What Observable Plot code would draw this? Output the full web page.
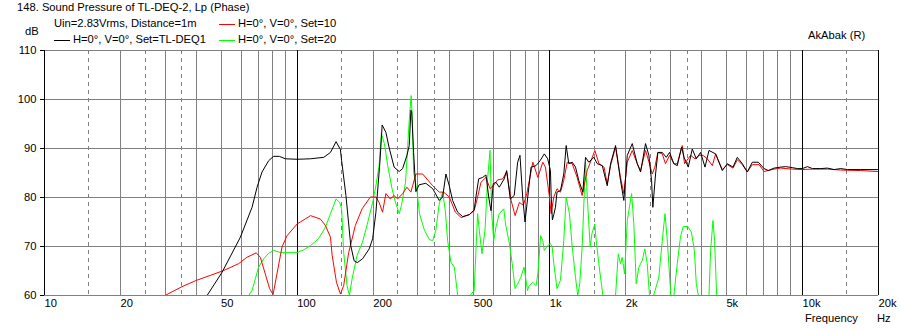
<!DOCTYPE html>
<html>
<head>
<meta charset="utf-8">
<script src="https://cdn.jsdelivr.net/npm/d3@7"></script>
<script src="https://cdn.jsdelivr.net/npm/@observablehq/plot@0.6"></script>
<style>
  html, body { margin: 0; padding: 0; background: #fff; }
  #wrap { position: relative; width: 900px; height: 331px; font-family: "Liberation Sans", Arial, sans-serif; font-size: 11.2px; color: #000; }
  .t { position: absolute; white-space: nowrap; line-height: 1; }
  .sw { position: absolute; height: 1px; width: 16px; }
</style>
</head>
<body>
<div id="wrap">
  <div id="chart"></div>
  <div class="t" style="left:17px; top:2px;">148. Sound Pressure of TL-DEQ-2, Lp (Phase)</div>
  <div class="t" style="left:54px; top:18px;">Uin=2.83Vrms, Distance=1m</div>
  <div class="t" style="left:25px; top:26px;">dB</div>
  <div class="sw" style="left:54px; top:40px; background:#000;"></div>
  <div class="t" style="left:73px; top:34px;">H=0°, V=0°, Set=TL-DEQ1</div>
  <div class="sw" style="left:219px; top:24px; background:#ff0000;"></div>
  <div class="t" style="left:238px; top:18px;">H=0°, V=0°, Set=10</div>
  <div class="sw" style="left:219px; top:40px; background:#00ff00;"></div>
  <div class="t" style="left:238px; top:34px;">H=0°, V=0°, Set=20</div>
  <div class="t" style="left:808px; top:30px;">AkAbak (R)</div>
  <div class="t" style="left:805px; top:313px;">Frequency</div>
  <div class="t" style="left:877px; top:313px;">Hz</div>
</div>
<script>
// ---- tick values and labels ----
const xTicks = [10, 20, 50, 100, 200, 500, 1000, 2000, 5000, 10000, 20000];
const xTickLabels = ["10", "20", "50", "100", "200", "500", "1k", "2k", "5k", "10k", "20k"];
const yTicks = [60, 70, 80, 90, 100, 110];
const majorGrid = [10, 100, 1000, 10000, 20000];
const minorGrid = [20, 30, 40, 50, 60, 70, 80, 90, 200, 300, 400, 500, 600, 700, 800, 900,
                   2000, 3000, 4000, 5000, 6000, 7000, 8000, 9000];
const dashedGrid = [15, 25, 35, 150, 250, 350, 1500, 2500, 3500, 15000];

// ---- series: Set=TL-DEQ1 (black) ----
const blackF = [10, 44, 50.4, 59.6, 66.3, 69.4, 72.6, 77.1, 80.7, 85, 89.8, 100, 113, 127.5, 135.5, 142.6, 148.3, 150, 156, 163, 168, 173, 181.5, 192.8, 199, 205, 212.6, 217, 224.5, 231, 242, 253.5, 261.5, 272, 277.8, 282, 284, 289, 295, 304, 323, 344, 365, 376.6, 388, 400, 412.5, 431.7, 452, 480, 502, 510, 523, 542, 559, 573, 585, 597, 612, 631, 660, 675, 697.5, 723, 746, 762, 781, 798, 818, 843, 882, 915, 951, 981, 1006, 1013, 1024, 1037, 1053, 1068, 1102, 1136, 1161, 1189, 1227, 1264, 1302, 1351, 1385, 1427, 1494, 1541, 1613, 1688, 1740, 1821, 1905, 1964, 2026, 2120, 2219, 2287, 2393, 2467, 2528, 2558, 2622, 2678, 2787, 2891, 2979, 3098, 3195, 3324, 3400, 3532, 3664, 3800, 3953, 4114, 4267, 4532, 4817, 5043, 5311, 5523, 5781, 6050, 6333, 6690, 7046, 7328, 7720, 8200, 8581, 9120, 9546, 10000, 10467, 10955, 11815, 12560, 13340, 14180, 15080, 17020, 19820];
const blackDb = [60, 60, 64.7, 71.9, 78.0, 82.1, 85.2, 87.5, 88.4, 88.4, 87.9, 87.8, 87.9, 88.2, 89.2, 91.4, 89.8, 87.5, 80.4, 70.2, 67.1, 66.7, 67.5, 69.5, 71.6, 77.0, 87.2, 94.8, 93.3, 90.3, 86.2, 85.3, 85.9, 88.6, 90.6, 97.8, 97.5, 89.2, 81.2, 82.6, 82.9, 81.8, 79.4, 80.1, 84.8, 82.4, 79.4, 77.0, 76.1, 76.5, 77.5, 80.1, 83.8, 84.1, 84.6, 80.1, 77.3, 82.8, 83.1, 82.1, 83.8, 85.5, 79.7, 80.4, 87.2, 88.6, 80.1, 75.0, 80.1, 86.2, 86.5, 87.5, 88.9, 87.9, 85.5, 80.1, 75.4, 76.5, 78.0, 81.1, 81.4, 84.8, 90.6, 86.9, 87.2, 86.2, 83.5, 81.1, 88.2, 87.2, 88.2, 86.9, 86.5, 82.4, 86.9, 90.6, 83.5, 79.4, 88.6, 91.0, 86.9, 85.2, 91.0, 88.6, 83.5, 78.0, 84.8, 89.2, 89.2, 88.2, 89.2, 86.9, 86.5, 90.3, 88.2, 86.2, 89.9, 87.9, 89.2, 86.2, 89.6, 88.9, 85.5, 86.9, 86.2, 88.2, 86.9, 85.2, 87.2, 87.2, 85.9, 85.5, 86.0, 86.2, 86.3, 86.1, 85.9, 85.9, 86.3, 85.9, 85.9, 86.0, 85.7, 85.9, 85.7, 85.7, 85.7];

// ---- series: Set=10 (red) ----
const redF = [30, 35, 40, 45.3, 51.2, 58.7, 63.3, 68.9, 71.5, 74.8, 77.8, 80.3, 83.2, 87.1, 91.2, 100, 113, 123.6, 129.4, 135.5, 137.6, 143.1, 148.3, 152.8, 160, 170, 180.7, 195, 205, 211, 217.8, 224.5, 233.5, 242, 250, 261.5, 272, 282, 295, 313.8, 344, 365, 380, 400, 423, 446, 480, 502, 518, 534, 559, 580, 597, 622, 651, 675, 703, 729, 758, 786, 811, 857, 897, 938, 961, 997, 1012, 1037, 1068, 1102, 1136, 1172, 1227, 1283, 1343, 1406, 1508, 1565, 1640, 1688, 1740, 1821, 1905, 1964, 2026, 2120, 2219, 2287, 2393, 2480, 2543, 2605, 2678, 2787, 2870, 2979, 3098, 3195, 3345, 3415, 3608, 3758, 3900, 4042, 4203, 4399, 4532, 4817, 5043, 5311, 5523, 5781, 6050, 6333, 6740, 7046, 7720, 8200, 9120, 10000, 10955, 12560, 14180, 17020, 19820];
const redDb = [60, 61.8, 63.1, 64.1, 65.1, 66.5, 67.8, 68.7, 67.8, 64.4, 61.4, 60.2, 64.4, 69.9, 72.2, 74.6, 76.3, 75.6, 74.3, 71.9, 68.2, 62.7, 60.3, 62.0, 68.8, 74.3, 77.7, 80.1, 80.1, 79.0, 77.0, 80.8, 79.7, 80.4, 79.7, 80.8, 82.1, 81.1, 84.8, 84.8, 82.4, 81.1, 81.1, 80.1, 77.0, 75.9, 76.5, 77.3, 80.1, 83.1, 84.1, 81.8, 82.4, 83.6, 83.8, 85.2, 79.4, 76.3, 79.0, 78.4, 80.8, 87.2, 84.1, 87.2, 86.2, 80.1, 76.7, 80.1, 81.8, 81.1, 83.5, 87.2, 86.9, 84.1, 80.4, 85.5, 89.6, 86.9, 86.2, 82.8, 86.5, 90.3, 84.1, 80.8, 87.2, 89.6, 86.9, 85.5, 89.6, 86.9, 84.8, 86.2, 89.2, 88.9, 86.9, 88.6, 86.9, 86.9, 90.6, 86.9, 88.6, 87.9, 88.6, 88.6, 87.9, 86.5, 88.9, 85.7, 86.7, 86.0, 87.7, 86.7, 85.2, 86.7, 86.7, 85.3, 85.8, 86.0, 85.8, 85.7, 85.8, 85.8, 85.6, 85.5, 85.3];

// ---- series: Set=20 (green) ----
const greenF = [10, 64.3, 66.3, 68.3, 70.4, 73.7, 77.1, 80.7, 85.5, 100, 106, 113, 121.6, 129.4, 135.5, 142.6, 147.3, 150, 152.8, 157.6, 161, 165, 172.7, 181.5, 189, 199, 205, 211, 215.5, 221.5, 228.3, 237.5, 245, 253.5, 258.8, 268.5, 274, 279, 282.7, 286, 289, 298.5, 305, 319, 334, 344, 354, 365, 376.6, 386, 394, 406, 419, 432, 483, 502, 518, 526, 539, 554, 568, 580, 589, 600, 612, 631, 657.6, 668, 692, 710, 729, 746, 768, 791, 816, 828, 857, 882, 897, 920, 938, 951, 981, 1006, 1022, 1037, 1068, 1102, 1136, 1161, 1196, 1227, 1264, 1290, 1314, 1343, 1385, 1410, 1445, 1468, 1507, 1527, 1563, 1622, 1821, 1866, 1905, 1935, 1977, 2026, 2108, 2151, 2198, 2252, 2322, 2377, 2430, 2480, 2575, 2701, 2804, 2858, 2924, 3013, 3098, 3195, 3290, 3375, 3515, 3636, 3735, 3800, 3873, 4267, 4330, 4425, 4490, 4575, 20000];
const greenDb = [60, 60, 61.0, 63.4, 65.8, 67.5, 68.6, 69.2, 68.8, 68.8, 69.3, 70.2, 71.6, 73.9, 76.7, 79.7, 79.0, 77.7, 68.8, 62.0, 60, 63.4, 68.2, 70.9, 74.3, 79.0, 82.4, 86.5, 93.0, 91.0, 86.5, 81.8, 79.0, 76.7, 78.4, 83.1, 90.6, 97.4, 100.8, 95.4, 85.2, 81.1, 76.7, 73.3, 71.4, 71.2, 73.3, 78.7, 81.1, 77.3, 71.2, 66.8, 65.8, 60, 60, 61, 76.7, 73.3, 68.5, 73.3, 84.1, 89.6, 76.7, 71.2, 73.9, 76.7, 77.7, 74.6, 70.6, 66.5, 61.4, 62.4, 63.7, 65.8, 61, 62.0, 62.7, 62.0, 64.4, 72.2, 71.2, 69.2, 70.2, 70.6, 69.9, 66.5, 61.4, 63.1, 71.2, 80.1, 76.7, 69.9, 63.7, 60, 62.4, 69.9, 87.2, 79.4, 69.9, 72.6, 74.6, 71.2, 66.5, 60, 60, 68.5, 66.5, 67.8, 64.4, 75.3, 80.8, 74.6, 62.4, 65.8, 67.1, 69.5, 66.5, 60, 60, 63.7, 72.6, 76.7, 70.6, 60, 60, 66.5, 71.9, 74.1, 74.1, 72.9, 69.2, 62.4, 60, 60, 69.2, 75.3, 71.2, 60, 60];

const toRows = (F, D) => F.map((f, i) => ({f, db: D[i]}));
const black = toRows(blackF, blackDb);
const red = toRows(redF, redDb);
const green = toRows(greenF, greenDb);

const gray = "#808080";
const chart = Plot.plot({
  width: 900,
  height: 331,
  marginLeft: 44,
  marginRight: 22,
  marginTop: 50,
  marginBottom: 36,
  style: {fontFamily: "'Liberation Sans', Arial, sans-serif", fontSize: "11.2px", background: "#fff", color: "#000"},
  x: {type: "log", domain: [10, 20000], axis: null},
  y: {domain: [60, 110], axis: null},
  marks: [
    Plot.ruleY(yTicks, {stroke: gray, shapeRendering: "crispEdges"}),
    Plot.ruleX(minorGrid, {stroke: gray, shapeRendering: "crispEdges"}),
    Plot.ruleX(dashedGrid, {stroke: gray, strokeDasharray: "4,4", shapeRendering: "crispEdges"}),
    Plot.ruleX(majorGrid, {stroke: "#000", shapeRendering: "crispEdges"}),
    Plot.axisY({ticks: yTicks, tickSize: 4, tickPadding: 4, tickFormat: d => String(d), anchor: "left", label: null, fontSize: 11.2}),
    Plot.text(xTicks, {x: d => d, y: 60, text: (d, i) => xTickLabels[i], textAnchor: "start", dy: 8, fontSize: 11.2}),
    Plot.line(green, {x: "f", y: "db", stroke: "#00ff00", strokeWidth: 1, clip: true}),
    Plot.line(red, {x: "f", y: "db", stroke: "#ff0000", strokeWidth: 1, clip: true}),
    Plot.line(black, {x: "f", y: "db", stroke: "#000", strokeWidth: 1, clip: true})
  ]
});
document.getElementById("chart").appendChild(chart);
</script>
</body>
</html>
